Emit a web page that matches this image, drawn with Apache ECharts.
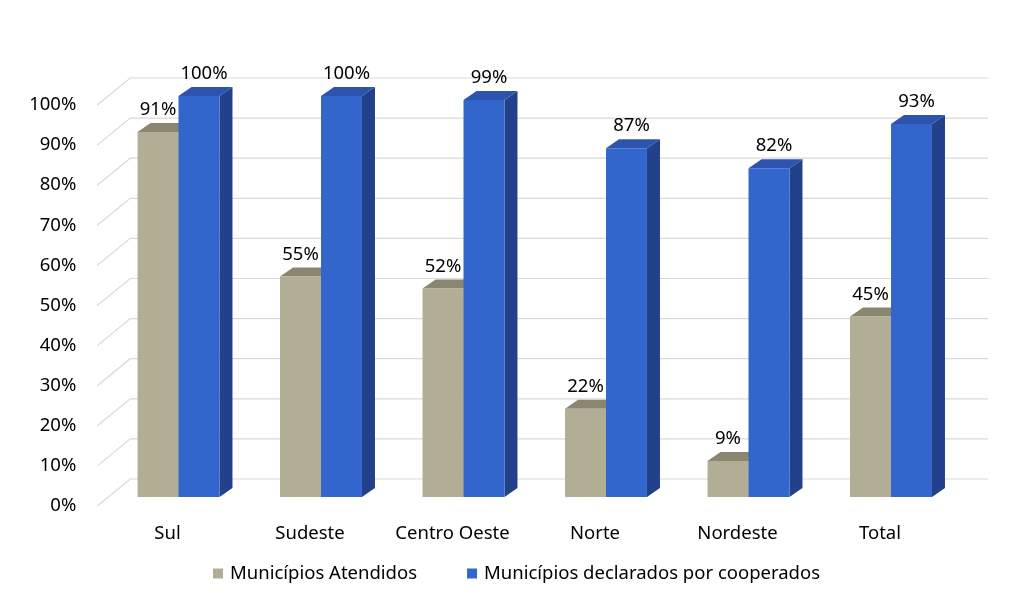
<!DOCTYPE html>
<html><head><meta charset="utf-8">
<script src="https://cdn.jsdelivr.net/npm/echarts@6/dist/echarts.min.js"></script>
<style>html,body{margin:0;padding:0;background:#fff}#c{width:1024px;height:603px}</style>
</head><body><div id="c"></div>
<script>
const categories = ['Sul', 'Sudeste', 'Centro Oeste', 'Norte', 'Nordeste', 'Total'];
const atendidos = [91, 55, 52, 22, 9, 45];
const declarados = [100, 100, 99, 87, 82, 93];
const yTicks = [0, 10, 20, 30, 40, 50, 60, 70, 80, 90, 100];
const seriesNames = ['Municípios Atendidos', 'Municípios declarados por cooperados'];

const FONT = 'Noto Sans';
const FS = 18.5;
const DX = 13, DY = 9;       // bar depth
const PLANE = 9;             // label plane offset below bar plane
const WALL = 18;             // back wall offset above bar plane
const COLORS = [
  {front: '#B2AD95', top: '#8B8670', side: '#8B8670'},
  {front: '#3366CC', top: '#2C54AE', side: '#22418A'}
];

function barRender(sIdx) {
  return function (params, api) {
    const cat = api.value(0), val = api.value(1);
    const top = api.coord([cat, val]);
    const base = api.coord([cat, 0]);
    const bw = api.size([1, 0])[0] * 0.2875;
    const x0 = sIdx === 0 ? top[0] - bw : top[0];
    const x1 = x0 + bw;
    const c = COLORS[sIdx];
    const children = [
      {type: 'polygon', shape: {points: [[x1, top[1]], [x1 + DX, top[1] - DY], [x1 + DX, base[1] - DY], [x1, base[1]]]}, style: {fill: c.side}},
      {type: 'polygon', shape: {points: [[x0, top[1]], [x0 + DX, top[1] - DY], [x1 + DX, top[1] - DY], [x1, top[1]]]}, style: {fill: c.top}},
      {type: 'rect', shape: {x: x0, y: top[1], width: bw, height: base[1] - top[1]}, style: {fill: c.front}},
      {type: 'text', style: {text: val + '%', x: (x0 + x1) / 2 + (sIdx === 1 ? 5 : 0), y: top[1] - 22, align: 'center', verticalAlign: 'middle', font: FS + 'px "' + FONT + '"', fill: '#000'}}
    ];
    return {type: 'group', children: children};
  };
}

function gridRender(params, api) {
  const v = api.value(0);
  const p = api.coord([0, v]);
  const left = params.coordSys.x, right = params.coordSys.x + params.coordSys.width;
  return {type: 'polyline', shape: {points: [[left - 10, p[1] + PLANE], [left + 23, p[1] - WALL], [right + 26, p[1] - WALL]]},
    style: {stroke: '#D9D9D9', lineWidth: 1.2, fill: null}, silent: true};
}

const chart = echarts.init(document.getElementById('c'), null, {renderer: 'canvas'});
chart.setOption({
  animation: false,
  textStyle: {fontFamily: FONT},
  grid: [
    {left: 107.25, right: 61.75, top: 96, bottom: 106},
    {left: 96.25, right: 72.75, top: 105, bottom: 97}
  ],
  xAxis: [
    {type: 'category', data: categories, gridIndex: 0, axisLine: {show: false}, axisTick: {show: false}, axisLabel: {show: false}, splitLine: {show: false}},
    {type: 'category', data: categories, gridIndex: 1, axisLine: {show: false}, axisTick: {show: false}, splitLine: {show: false},
      axisLabel: {color: '#000', fontSize: FS, fontFamily: FONT, margin: 18, interval: 0, hideOverlap: false}}
  ],
  yAxis: [
    {type: 'value', min: 0, max: 100, interval: 10, gridIndex: 0, axisLabel: {show: false}, axisLine: {show: false}, axisTick: {show: false}, splitLine: {show: false}},
    {type: 'value', min: 0, max: 100, interval: 10, gridIndex: 1, axisLine: {show: false}, axisTick: {show: false}, splitLine: {show: false},
      axisLabel: {color: '#000', fontSize: FS, fontFamily: FONT, margin: 20, formatter: '{value}%'}}
  ],
  legend: {
    data: seriesNames, bottom: 15, left: 208, icon: 'rect', itemWidth: 10, itemHeight: 10, itemGap: 50,
    textStyle: {color: '#000', fontSize: FS, fontFamily: FONT, padding: [0, 0, 0, 2]}
  },
  series: [
    {type: 'custom', name: '_grid', renderItem: gridRender, data: yTicks.map(v => [v]), encode: {y: 0}, xAxisIndex: 0, yAxisIndex: 0, z: 1, silent: true},
    {type: 'custom', name: seriesNames[0], renderItem: barRender(0), data: atendidos.map((v, i) => [i, v]), encode: {x: 0, y: 1}, itemStyle: {color: COLORS[0].front}, z: 2},
    {type: 'custom', name: seriesNames[1], renderItem: barRender(1), data: declarados.map((v, i) => [i, v]), encode: {x: 0, y: 1}, itemStyle: {color: COLORS[1].front}, z: 3}
  ]
});
</script></body></html>
